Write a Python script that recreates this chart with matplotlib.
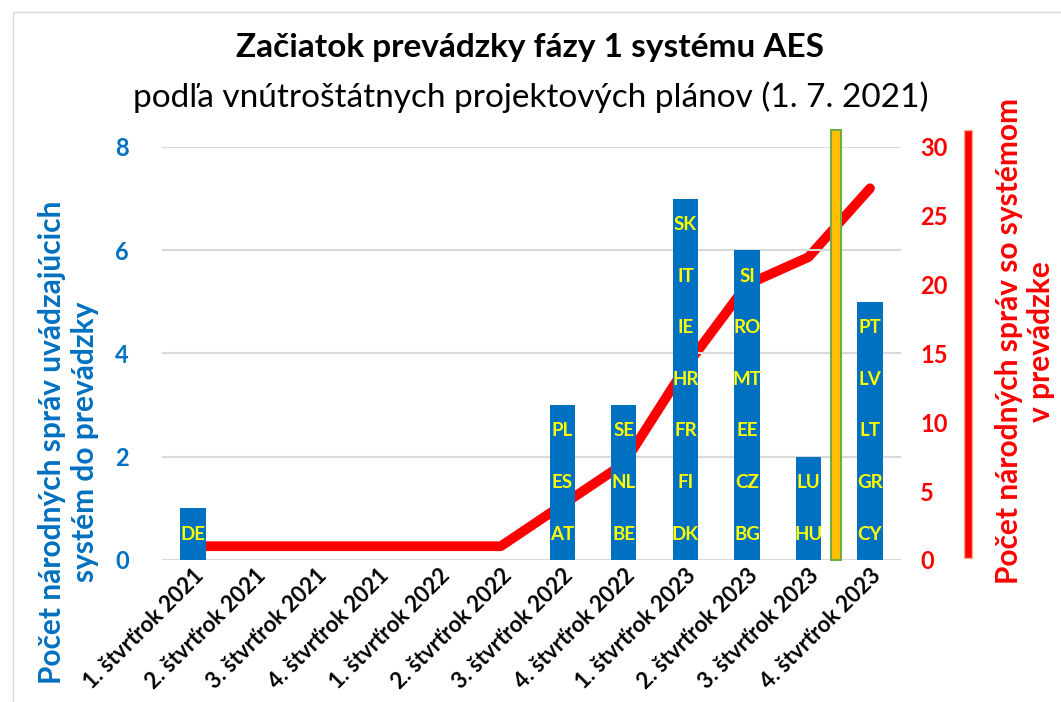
import numpy as np
import matplotlib.pyplot as plt
from matplotlib.patches import Rectangle

plt.rcParams['font.family'] = ['Lato', 'DejaVu Sans']

# Dáta
stvrtroky = ['1. štvrťrok 2021', '2. štvrťrok 2021', '3. štvrťrok 2021', '4. štvrťrok 2021',
             '1. štvrťrok 2022', '2. štvrťrok 2022', '3. štvrťrok 2022', '4. štvrťrok 2022',
             '1. štvrťrok 2023', '2. štvrťrok 2023', '3. štvrťrok 2023', '4. štvrťrok 2023']
pocty = [1, 0, 0, 0, 0, 0, 3, 3, 7, 6, 2, 5]
krajiny = [['DE'], [], [], [], [], [], ['AT', 'ES', 'PL'], ['BE', 'NL', 'SE'],
           ['DK', 'FI', 'FR', 'HR', 'IE', 'IT', 'SK'], ['BG', 'CZ', 'EE', 'MT', 'RO', 'SI'],
           ['HU', 'LU'], ['CY', 'GR', 'LT', 'LV', 'PT']]
kumulativne = [1, 1, 1, 1, 1, 1, 4, 7, 14, 20, 22, 27]
dnes = 10.45  # poloha žltej značky

modra = '#0070C0'
cervena = '#FF0000'

fig = plt.figure(figsize=(10.61, 7.02), dpi=100)
ax = fig.add_axes([0.153, 0.2023, 0.696, 0.5883])
x = np.arange(len(stvrtroky))

# Stĺpce
ax.bar(x, pocty, width=0.41, color=modra, zorder=2)
for i, zoznam in enumerate(krajiny):
    for j, k in enumerate(zoznam):
        ax.text(i, j + 0.5, k, ha='center', va='center', color='#FFFF00',
                fontsize=13.5, fontweight='bold', zorder=3)

ax.set_xlim(-0.5, 11.5)
ax.set_ylim(0, 8)
ax.set_yticks([0, 2, 4, 6, 8])
ax.grid(axis='y', color='#D9D9D9', linewidth=1.5, zorder=0)
ax.set_axisbelow(True)
for s in ax.spines.values():
    s.set_visible(False)
ax.tick_params(axis='both', length=0)
ax.tick_params(axis='y', labelcolor=modra, labelsize=17, pad=24)
for t in ax.get_yticklabels():
    t.set_fontweight('bold')
ax.set_xticks(x)
ax.set_xticklabels(stvrtroky, rotation=45, ha='right', rotation_mode='anchor',
                   fontsize=16, fontweight='bold')
ax.set_ylabel('Počet národných správ uvádzajúcich\nsystém do prevádzky',
              color=modra, fontsize=21.5, fontweight='bold', linespacing=1.2)
ax.yaxis.set_label_coords(-0.086, 0.286)

# Žltá značka
ax.add_patch(Rectangle((dnes - 0.08, 0), 0.16, 8.33, facecolor='#FFC000',
                       edgecolor='#70AD47', linewidth=1.5, clip_on=False, zorder=4))

# Kumulatívna čiara
ax2 = ax.twinx()
ax2.plot(x, kumulativne, color=cervena, linewidth=7, solid_capstyle='round',
         solid_joinstyle='round', zorder=5)
ax2.set_ylim(0, 30)
ax2.set_yticks(range(0, 31, 5))
for s in ax2.spines.values():
    s.set_visible(False)
ax2.tick_params(axis='y', length=0, labelcolor=cervena, labelsize=17, pad=14)
for t in ax2.get_yticklabels():
    t.set_fontweight('bold')
ax2.set_ylabel('Počet národných správ so systémom\nv prevádzke', color=cervena,
               fontsize=21.5, fontweight='bold', rotation=90, va='center',
               linespacing=1.2)
ax2.yaxis.set_label_coords(1.168, 0.53)
ax.set_zorder(ax2.get_zorder() + 1)
ax.patch.set_visible(False)

# Červený pruh pri pravej osi
fig.add_artist(Rectangle((964 / 1061, 1 - 558 / 702), 8 / 1061, 428 / 702,
                         transform=fig.transFigure, facecolor=cervena,
                         edgecolor='#F4B183', linewidth=1))

# Rámik grafu
fig.add_artist(Rectangle((13 / 1061, -0.01), 1.0, 1 - 12 / 702 + 0.01,
                         transform=fig.transFigure, fill=False,
                         edgecolor='#D9D9D9', linewidth=1))

# Nadpis
fig.text(0.5, 1 - 47 / 702, 'Začiatok prevádzky fázy 1 systému AES', ha='center',
         va='center', fontsize=24, fontweight='bold')
fig.text(0.5, 1 - 97 / 702, 'podľa vnútroštátnych projektových plánov (1. 7. 2021)',
         ha='center', va='center', fontsize=24)

fig.savefig('out.png', dpi=100)
